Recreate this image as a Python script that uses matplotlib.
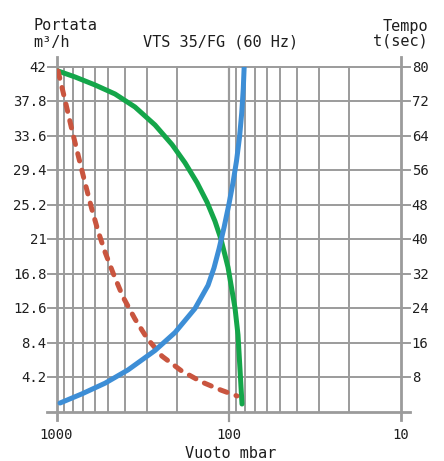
import matplotlib
matplotlib.use("Agg")
import matplotlib.pyplot as plt
from matplotlib.transforms import offset_copy

# ---- data ----
# green: flow (left axis, m3/h) vs vacuum (mbar)
vac_flow = [980, 780, 597.5, 457, 350, 267.7, 213.2, 179.2, 152.6, 133.5, 120, 110.7,
            100.8, 91.8, 88.2, 85.9, 83.6]
flow = [41.48, 40.75, 39.78, 38.68, 37.1, 34.91, 32.53, 30.31, 27.90, 25.53, 23.2, 21.01,
        17.6, 12.65, 9.37, 5.23, 0.97]

# blue: pump-down time (right axis, s) vs vacuum (mbar)
vac_time = [954.3, 710.9, 522.6, 384.1, 267.7, 204.8, 156.8, 131.7, 121.6, 113.7, 106.3,
            99.5, 94.3, 90.0, 86.4, 83.9, 82.2, 81.2]
time_s = [2.08, 4.21, 6.67, 9.75, 14.25, 18.42, 23.98, 29.35, 33.39, 37.79, 42.76, 48.21,
          53.12, 58.15, 63.72, 69.32, 74.88, 80.0]

# red dashed (left axis) vs vacuum (mbar)
vac_red = [980, 892.8, 816, 746.9, 683, 626, 574, 522.6, 469.5, 410.8, 350, 298, 243.8,
           189.1, 144.7, 110.7, 89.4]
red = [41.48, 37.95, 34.42, 31.14, 27.86, 24.81, 22.02, 19.46, 16.91, 13.99, 11.31, 8.98,
       6.79, 5.05, 3.69, 2.66, 1.95]

left_ticks = [4.2, 8.4, 12.6, 16.8, 21, 25.2, 29.4, 33.6, 37.8, 42]
left_labels = ["4.2", "8.4", "12.6", "16.8", "21", "25.2", "29.4", "33.6", "37.8", "42"]
right_ticks = [8, 16, 24, 32, 40, 48, 56, 64, 72, 80]
right_labels = ["8", "16", "24", "32", "40", "48", "56", "64", "72", "80"]
x_major = [1000, 100, 10]
x_labels = ["1000", "100", "10"]
x_minor = [900, 800, 700, 600, 500, 400, 300, 200, 90, 80, 70, 60, 50, 40, 30, 20]

GRID = "#9b9b9b"
TXT = "#1e1e1e"
GREEN = "#14a64a"
BLUE = "#3d8ed6"
RED = "#c9553f"
FONT = "DejaVu Sans Mono"

fig = plt.figure(figsize=(4.44, 4.61), dpi=100)
ax = fig.add_axes([0.1273, 0.1063, 0.7752, 0.749])
ax.set_xscale("log")
ax.set_xlim(1000, 10)
ax.set_ylim(0, 42)
ax.set_axis_off()
ax2 = ax.twinx()
ax2.set_xscale("log")
ax2.set_xlim(1000, 10)
ax2.set_ylim(0, 80)
ax2.set_axis_off()

W = 344.2
H = 345.3
xt = ax.get_xaxis_transform()
yt = ax.get_yaxis_transform()

for x in x_minor:
    ax.plot([x, x], [0, 1], transform=xt, color=GRID, lw=1.4, zorder=1, clip_on=False)
for x in [1000, 10]:
    ax.plot([x, x], [-8 / H, 1 + 10 / H], transform=xt, color=GRID, lw=2.0, zorder=1, clip_on=False)
ax.plot([100, 100], [-9 / H, 1], transform=xt, color=GRID, lw=1.6, zorder=1, clip_on=False)
for y in left_ticks:
    ax.plot([-9 / W, 1 + 9 / W], [y, y], transform=yt, color=GRID, lw=1.4, zorder=1, clip_on=False)
ax.plot([-9.5 / W, 1 + 9.5 / W], [0, 0], transform=yt, color=GRID, lw=2.0, zorder=1, clip_on=False)

# curves
ax.plot(vac_flow, flow, color=GREEN, lw=3.6, solid_capstyle="round", solid_joinstyle="round", zorder=3)
ax.plot(vac_red, red, color=RED, lw=3.6, dashes=(1.5, 1.9), dash_capstyle="round", zorder=4)
ax2.plot(vac_time, time_s, color=BLUE, lw=3.6, solid_capstyle="round", solid_joinstyle="round", zorder=5)

# tick labels
tl = offset_copy(yt, fig=fig, x=0, y=-5, units="dots")
for y, l in zip(left_ticks, left_labels):
    ax.text(-10 / W, y, l, transform=tl, ha="right", va="baseline", fontsize=10, family=FONT, color=TXT)
tr = offset_copy(ax2.get_yaxis_transform(), fig=fig, x=0, y=-5, units="dots")
for y, l in zip(right_ticks, right_labels):
    ax2.text(1 + 11 / W, y, l, transform=tr, ha="left", va="baseline", fontsize=10, family=FONT, color=TXT)
tb = offset_copy(xt, fig=fig, x=0, y=-27, units="dots")
for x, l in zip(x_major, x_labels):
    ax.text(x, 0, l, transform=tb, ha="center", va="baseline", fontsize=10, family=FONT, color=TXT)

# header texts
def ft(px, py, s, ha):
    fig.text(px / 444, (461 - py) / 461, s, ha=ha, va="baseline", fontsize=11, family=FONT, color=TXT)

ft(33, 30.5, "Portata", "left")
ft(33, 46.5, "m³/h", "left")
ft(220.5, 46.5, "VTS 35/FG (60 Hz)", "center")
ft(428, 30.5, "Tempo", "right")
ft(428, 46, "t(sec)", "right")
ft(230.5, 458, "Vuoto mbar", "center")

fig.savefig("out.png", dpi=100)
